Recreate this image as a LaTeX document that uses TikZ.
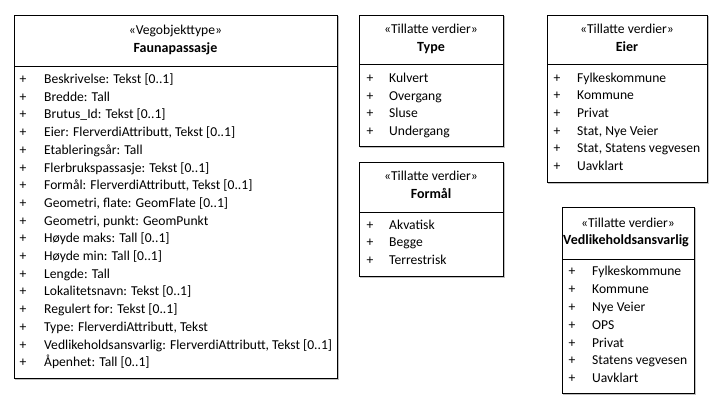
\documentclass[tikz,border=0pt]{standalone}
\usepackage{fontspec}
\setmainfont{Carlito}

\tikzset{
  umlbox/.style={draw=black, line width=1bp},
  umlshadow/.style={draw=black!25, line width=1bp},
  stereo/.style={anchor=mid, inner sep=0pt},
  classname/.style={anchor=mid, inner sep=0pt, font=\fontsize{14bp}{16bp}\selectfont\bfseries},
  plussign/.style={anchor=mid, inner sep=0pt},
  item/.style={anchor=mid west, inner sep=0pt}
}

\begin{document}
\begin{tikzpicture}[x=1bp, y=-1bp, font=\fontsize{13.6bp}{16bp}\selectfont]

    \useasboundingbox (0,0) rectangle (725,411);

    % Faunapassasje
    \draw[umlshadow] (15,379) -- (338,379) -- (338,16);
    \draw[umlbox] (14,15) rectangle (337,378);
    \draw[umlbox] (14,66) -- (337,66);
    \node[stereo] (fauna-stereo) at (175.5,32) {«Vegobjekttype»};
    \node[classname] (fauna-name) at (175.5,50) {Faunapassasje};
    \foreach \txt [count=\i] in {Beskrivelse: Tekst [0..1], Bredde: Tall,
        Brutus\_Id: Tekst [0..1], {Eier: FlerverdiAttributt, Tekst [0..1]},
        Etableringsår: Tall, Flerbrukspassasje: Tekst [0..1],
        {Formål: FlerverdiAttributt, Tekst [0..1]}, {Geometri, flate: GeomFlate [0..1]},
        {Geometri, punkt: GeomPunkt}, Høyde maks: Tall [0..1], Høyde min: Tall [0..1],
        Lengde: Tall, Lokalitetsnavn: Tekst [0..1], Regulert for: Tekst [0..1],
        {Type: FlerverdiAttributt, Tekst}, {Vedlikeholdsansvarlig: FlerverdiAttributt, Tekst [0..1]},
        Åpenhet: Tall [0..1]} {
      \node[plussign] (fauna-plus-\i) at (23,{81.2+(\i-1)*17.7}) {+};
      \node[item] (fauna-\i) at (44,{81.2+(\i-1)*17.7}) {\txt};
    }

    % Type
    \draw[umlshadow] (360,147) -- (504,147) -- (504,16);
    \draw[umlbox] (359,15) rectangle (503,146);
    \draw[umlbox] (359,64) -- (503,64);
    \node[stereo] (type-stereo) at (431,31) {«Tillatte verdier»};
    \node[classname] (type-name) at (431,49) {Type};
    \foreach \txt [count=\i] in {Kulvert, Overgang, Sluse, Undergang} {
      \node[plussign] (type-plus-\i) at (370,{80+(\i-1)*17.7}) {+};
      \node[item] (type-\i) at (389,{80+(\i-1)*17.7}) {\txt};
    }

    % Formål
    \draw[umlshadow] (360,277) -- (504,277) -- (504,163);
    \draw[umlbox] (359,162) rectangle (503,276);
    \draw[umlbox] (359,212) -- (503,212);
    \node[stereo] (formal-stereo) at (431,178) {«Tillatte verdier»};
    \node[classname] (formal-name) at (431,196) {Formål};
    \foreach \txt [count=\i] in {Akvatisk, Begge, Terrestrisk} {
      \node[plussign] (formal-plus-\i) at (370,{227+(\i-1)*17.5}) {+};
      \node[item] (formal-\i) at (389,{227+(\i-1)*17.5}) {\txt};
    }

    % Eier
    \draw[umlshadow] (548,183) -- (708,183) -- (708,16);
    \draw[umlbox] (547,15) rectangle (707,182);
    \draw[umlbox] (547,64) -- (707,64);
    \node[stereo] (eier-stereo) at (627,31) {«Tillatte verdier»};
    \node[classname] (eier-name) at (627,49) {Eier};
    \foreach \txt [count=\i] in {Fylkeskommune, Kommune, Privat, {Stat, Nye Veier},
        {Stat, Statens vegvesen}, Uavklart} {
      \node[plussign] (eier-plus-\i) at (557,{80+(\i-1)*17.6}) {+};
      \node[item] (eier-\i) at (577,{80+(\i-1)*17.6}) {\txt};
    }

    % Vedlikeholdsansvarlig
    \draw[umlshadow] (563,394) -- (695,394) -- (695,208);
    \draw[umlbox] (562,207) rectangle (694,393);
    \draw[umlbox] (562,259) -- (694,259);
    \node[stereo] (vedl-stereo) at (628,225) {«Tillatte verdier»};
    \node[classname] (vedl-name) at (626,242) {Vedlikeholdsansvarlig};
    \foreach \txt [count=\i] in {Fylkeskommune, Kommune, Nye Veier, OPS, Privat,
        Statens vegvesen, Uavklart} {
      \node[plussign] (vedl-plus-\i) at (572,{273.5+(\i-1)*17.8}) {+};
      \node[item] (vedl-\i) at (592,{273.5+(\i-1)*17.8}) {\txt};
    }

\end{tikzpicture}
\end{document}
